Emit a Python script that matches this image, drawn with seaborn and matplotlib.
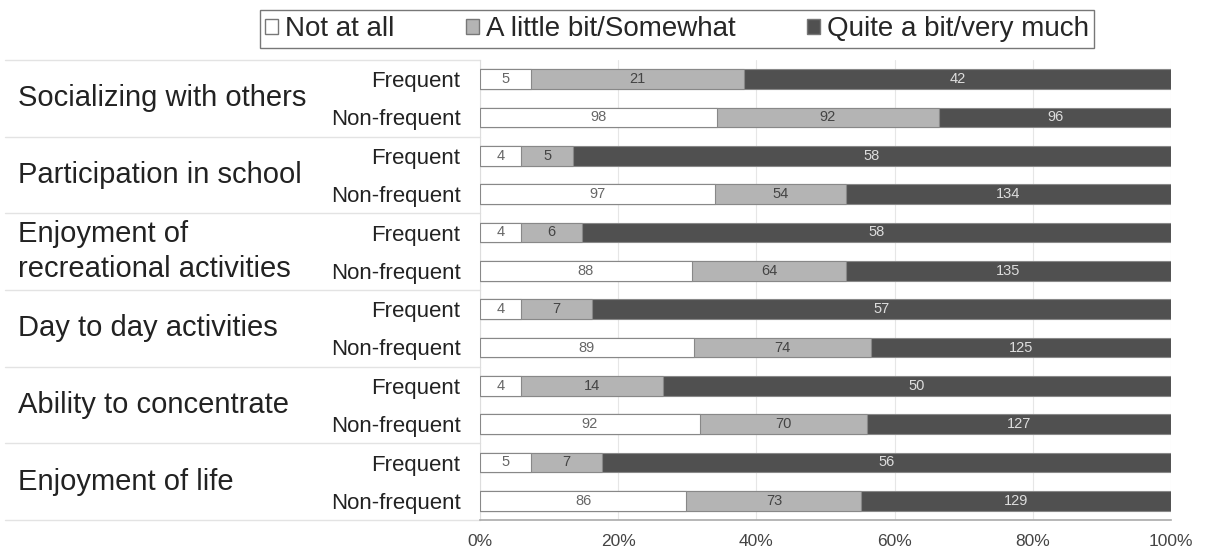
import matplotlib
matplotlib.use("Agg")
import matplotlib.pyplot as plt
import matplotlib.patches as mpatches
import seaborn as sns
import pandas as pd
import numpy as np

groups = ["Socializing with others", "Participation in school",
          "Enjoyment of\nrecreational activities", "Day to day activities",
          "Ability to concentrate", "Enjoyment of life"]
subgroups = ["Frequent", "Non-frequent"]
series = ["Not at all", "A little bit/Somewhat", "Quite a bit/very much"]

not_at_all = [5, 98, 4, 97, 4, 88, 4, 89, 4, 92, 5, 86]
little_bit = [21, 92, 5, 54, 6, 64, 7, 74, 14, 70, 7, 73]
quite_bit = [42, 96, 58, 134, 58, 135, 57, 125, 50, 127, 56, 129]

colors = ["#ffffff", "#b4b4b4", "#505050"]
text_colors = ["#666666", "#444444", "#dddddd"]

rows = [f"{g}|{s}" for g in groups for s in subgroups]
counts = np.array([not_at_all, little_bit, quite_bit], dtype=float)
totals = counts.sum(axis=0)
pct = counts / totals * 100
cum = np.cumsum(pct, axis=0)

df = pd.DataFrame({"row": rows})
for i in range(3):
    df[f"cum{i}"] = cum[i]
    df[f"pct{i}"] = pct[i]

sns.set_style("white")
plt.rcParams["font.family"] = ["Liberation Sans", "DejaVu Sans"]

fig = plt.figure(figsize=(12.07, 5.53), dpi=100)
ax = fig.add_axes([480/1207, 1-520/553, 691/1207, 460/553])

for i in [2, 1, 0]:
    sns.barplot(data=df, x=f"cum{i}", y="row", order=rows, orient="h",
                color=colors[i], edgecolor="#888888", linewidth=0.8,
                width=0.52, ax=ax, zorder=3, saturation=1)

for r in range(len(rows)):
    left = 0
    for i in range(3):
        ax.text(left + pct[i][r]/2, r, f"{int(counts[i][r])}", ha="center", va="center",
                fontsize=10.5, color=text_colors[i], zorder=5)
        left = cum[i][r]

ax.set_xlim(0, 100)
ax.set_ylim(len(rows)-0.5, -0.5)
ax.set_xticks([0, 20, 40, 60, 80, 100])
ax.set_xticklabels(["0%", "20%", "40%", "60%", "80%", "100%"], fontsize=12.5, color="#444444")
ax.tick_params(axis="x", length=0, pad=10)
ax.set_yticks(range(len(rows)))
ax.set_yticklabels([s for g in groups for s in subgroups], fontsize=16, color="#222222")
ax.tick_params(axis="y", length=0, pad=14)
ax.set_xlabel("")
ax.set_ylabel("")
for sp in ["top", "right"]:
    ax.spines[sp].set_visible(False)
ax.spines["left"].set_color("#dddddd")
ax.spines["bottom"].set_color("#aaaaaa")
ax.spines["bottom"].set_linewidth(1.2)
ax.grid(axis="x", color="#e6e6e6", linewidth=0.8, zorder=0)
ax.set_axisbelow(True)

# group labels and separators
for gi, g in enumerate(groups):
    yc = gi*2 + 0.5
    ax.text(-480/691*100 + 18/691*100, yc, g, ha="left", va="center",
            fontsize=21, color="#222222", transform=ax.transData, clip_on=False,
            linespacing=1.3)
for b in range(len(groups)+1):
    yb = b*2 - 0.5
    ax.plot([-475/691*100, 0], [yb, yb], color="#e3e3e3", linewidth=1.0,
            clip_on=False, zorder=1)

handles = [mpatches.Patch(facecolor=colors[i], edgecolor="#777777", label=series[i]) for i in range(3)]
leg = fig.legend(handles=handles, loc="center", bbox_to_anchor=(677/1207, 1-29/553),
                 ncol=3, frameon=True, fontsize=20, handlelength=0.45, handleheight=0.45,
                 handletextpad=0.25, columnspacing=2.6, fancybox=False, borderpad=0.2)
leg.get_frame().set_edgecolor("#555555")
leg.get_frame().set_linewidth(1.0)

fig.savefig("out.png", dpi=100)
